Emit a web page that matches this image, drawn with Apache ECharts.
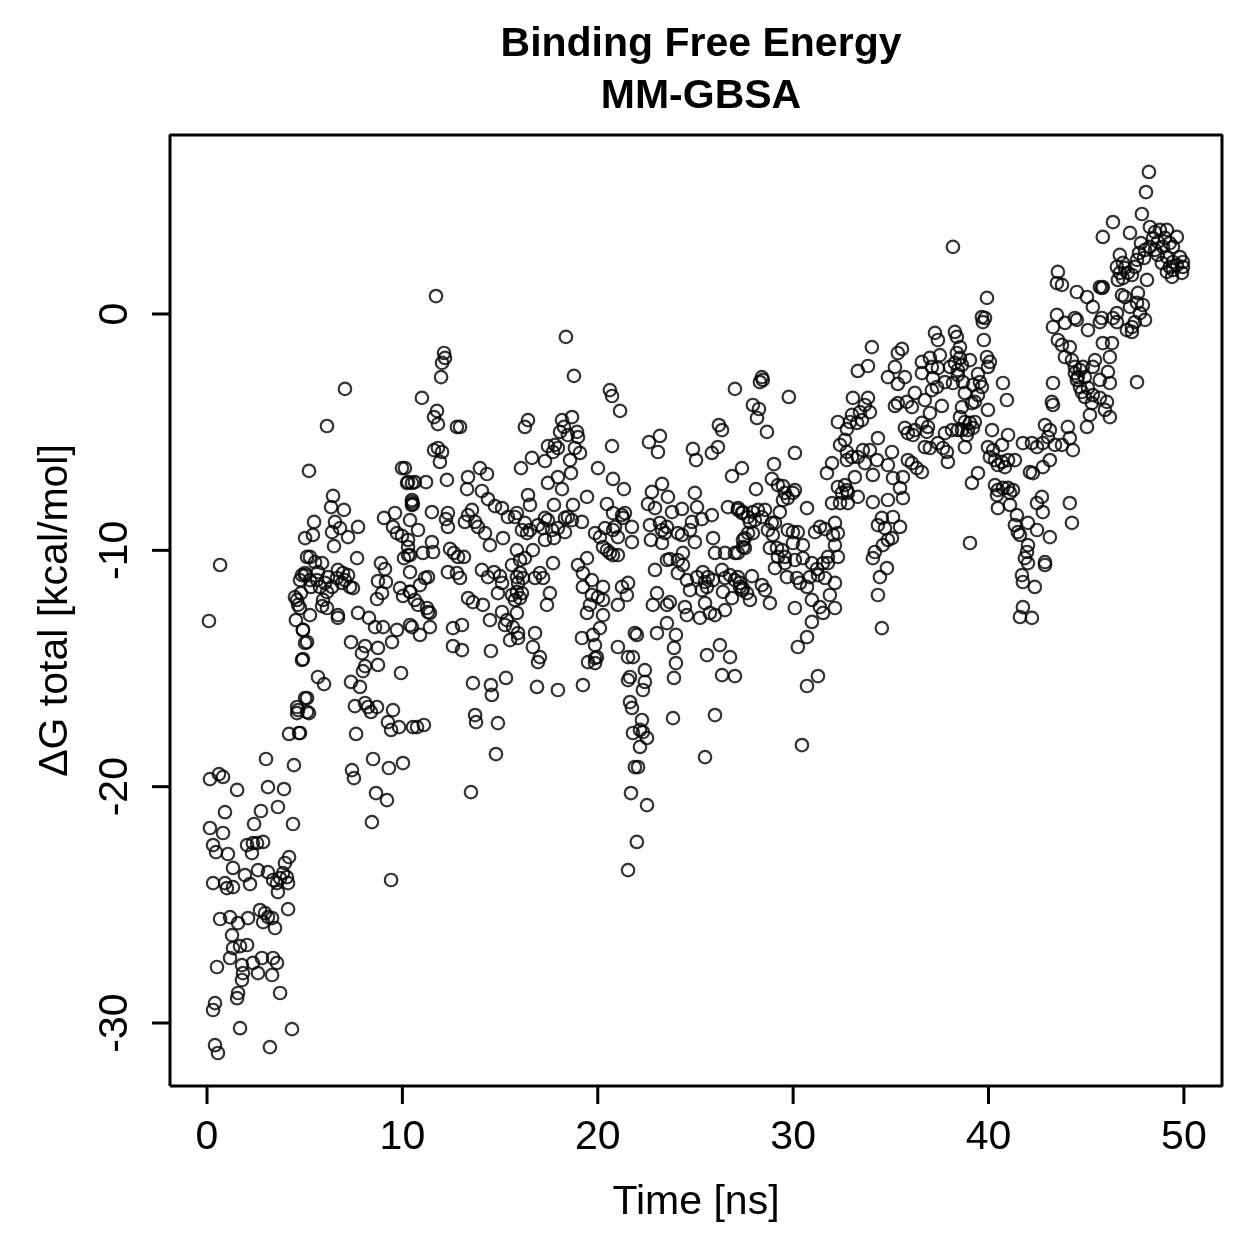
<!DOCTYPE html>
<html>
<head>
<meta charset="utf-8">
<title>Binding Free Energy - MM-GBSA</title>
<script src="https://cdn.jsdelivr.net/npm/echarts@6/dist/echarts.min.js"></script>
<style>
  html, body { margin: 0; padding: 0; background: #fff; }
  #chart { width: 1259px; height: 1259px; }
</style>
</head>
<body>
<div id="chart"></div>
<script>
// [time (ns), ΔG total (kcal/mol)], split by time window.
const frames0to5 = [
  [0.67,-10.62],[0.10,-12.99],[4.86,-11.05],[5.02,-11.05],[5.12,-10.28],[4.50,-11.98],[4.66,-12.31],[4.55,-12.95],[4.91,-13.37],[5.02,-13.92],
  [4.91,-14.60],[5.02,-16.25],[4.61,-16.63],[4.61,-16.89],[5.12,-16.84],[4.20,-17.77],[4.71,-17.73],[3.02,-18.83],[4.45,-19.09],[0.15,-19.68],
  [0.61,-19.47],[0.82,-19.59],[1.54,-20.14],[3.12,-20.02],[3.94,-20.10],[0.92,-21.08],[2.76,-21.03],[3.63,-20.86],[2.41,-21.58],[4.40,-21.58],
  [0.15,-21.75],[0.82,-21.96],[0.31,-22.47],[0.46,-22.77],[1.07,-22.85],[2.05,-22.47],[2.35,-22.39],[2.56,-22.39],[2.87,-22.34],[2.30,-22.81],
  [4.20,-22.98],[3.99,-23.23],[1.33,-23.44],[0.31,-24.08],[0.92,-24.08],[1.02,-24.29],[1.33,-24.25],[1.94,-23.74],[2.20,-24.12],[2.61,-23.53],
  [3.12,-23.62],[3.38,-23.95],[3.74,-23.87],[3.89,-23.66],[4.09,-23.83],[3.58,-24.08],[4.15,-24.08],[3.63,-24.46],[4.15,-25.18],[0.67,-25.60],
  [1.18,-25.52],[1.59,-25.77],[2.10,-25.56],[2.71,-25.22],[2.97,-25.35],[3.12,-25.52],[3.33,-25.56],[2.87,-25.73],[3.48,-25.98],[1.28,-26.28],
  [1.33,-26.83],[1.69,-26.75],[2.05,-26.70],[0.51,-27.63],[1.18,-27.25],[1.79,-27.55],[2.35,-27.46],[2.81,-27.25],[3.38,-27.25],[3.58,-27.46],
  [2.61,-27.89],[3.33,-27.97],[1.84,-27.89],[1.79,-28.18],[1.59,-28.73],[1.54,-28.95],[3.74,-28.73],[0.41,-29.16],[0.31,-29.45],[1.69,-30.22],
  [4.35,-30.26],[0.41,-30.94],[0.56,-31.27],[3.22,-31.02]
]
const frames5to10 = [
  [7.06,-3.17],[6.14,-4.74],[5.22,-6.64],[9.98,-6.52],[10.24,-7.15],[10.49,-7.15],[10.49,-7.96],[10.49,-8.08],[6.45,-7.70],[6.35,-8.17],
  [7.01,-8.29],[5.48,-8.80],[5.02,-9.48],[5.42,-9.35],[6.55,-8.80],[6.81,-9.06],[6.40,-9.23],[7.22,-9.44],[7.73,-9.01],[6.50,-9.82],
  [9.06,-8.63],[9.62,-8.42],[9.52,-9.01],[9.72,-9.27],[9.98,-9.39],[10.29,-9.56],[10.39,-10.20],[10.08,-10.33],[7.68,-10.33],[5.27,-10.28],
  [5.53,-10.50],[5.89,-10.54],[5.02,-10.96],[4.76,-11.26],[5.27,-11.26],[5.68,-10.92],[5.63,-11.26],[5.78,-11.55],[6.04,-11.38],[6.19,-11.13],
  [6.40,-11.55],[6.14,-11.77],[6.70,-10.83],[6.96,-10.96],[7.06,-11.26],[7.22,-11.05],[7.32,-11.55],[7.47,-11.60],[6.91,-11.38],[6.65,-11.17],
  [5.32,-11.55],[4.81,-11.81],[4.61,-12.10],[4.76,-12.44],[5.27,-12.74],[5.94,-12.10],[6.14,-12.44],[5.89,-12.36],[6.70,-12.74],[6.70,-12.86],
  [8.90,-10.54],[9.11,-10.79],[8.75,-11.30],[9.16,-11.34],[8.96,-11.81],[8.70,-12.06],[9.88,-11.60],[10.03,-11.93],[10.39,-11.76],[7.73,-12.65],
  [8.29,-12.86],[8.60,-13.25],[9.01,-13.25],[10.39,-13.16],[4.91,-13.37],[5.12,-13.88],[4.86,-14.64],[7.37,-13.88],[8.09,-14.05],[7.93,-14.35],
  [8.75,-14.13],[9.47,-13.88],[9.72,-13.37],[8.09,-14.90],[7.98,-15.11],[8.75,-14.85],[9.93,-15.19],[5.68,-15.36],[5.99,-15.66],[7.37,-15.57],
  [7.83,-15.78],[7.57,-16.59],[8.09,-16.46],[8.39,-16.84],[8.70,-16.63],[8.24,-16.63],[9.52,-16.76],[9.26,-17.27],[9.42,-17.60],[9.83,-17.48],
  [10.54,-17.48],[5.12,-16.25],[5.22,-16.89],[4.66,-16.76],[4.76,-17.73],[7.63,-17.77],[8.50,-18.83],[9.31,-19.21],[10.03,-19.00],[7.42,-19.30],
  [7.52,-19.64],[8.65,-20.27],[9.21,-20.57],[8.44,-21.50],[9.42,-23.95]
]
const frames10to16 = [
  [11.72,0.76],[12.13,-1.65],[12.18,-1.86],[12.03,-2.07],[11.98,-2.67],[11.00,-3.55],[11.77,-4.10],[11.62,-4.36],[11.82,-4.66],[12.79,-4.78],
  [12.95,-4.78],[16.27,-4.78],[11.62,-5.76],[11.82,-5.67],[12.03,-5.84],[11.92,-6.26],[10.13,-6.52],[10.29,-7.11],[10.64,-7.11],[11.21,-7.11],
  [12.28,-7.02],[13.97,-6.52],[14.33,-6.77],[13.36,-6.90],[13.31,-7.41],[14.07,-7.49],[14.38,-7.83],[10.49,-7.87],[10.54,-8.04],[11.51,-8.38],
  [12.33,-8.42],[12.23,-8.68],[12.33,-9.01],[13.36,-8.51],[13.56,-8.29],[13.20,-8.80],[13.72,-8.80],[13.87,-9.01],[10.39,-8.72],[10.29,-9.86],
  [10.29,-10.20],[10.80,-9.14],[11.51,-9.65],[11.57,-10.07],[11.05,-10.11],[14.74,-8.13],[15.10,-8.21],[15.40,-8.59],[15.76,-8.59],[14.23,-9.27],
  [14.48,-9.78],[15.15,-9.48],[12.44,-9.94],[12.64,-10.11],[12.85,-10.28],[13.15,-10.28],[12.33,-10.92],[12.79,-10.96],[12.95,-11.17],[14.07,-10.83],
  [14.38,-11.13],[14.69,-10.92],[15.00,-11.09],[15.10,-11.38],[14.89,-11.81],[15.61,-10.62],[16.02,-10.96],[16.17,-11.17],[15.86,-11.76],[16.02,-12.02],
  [15.76,-12.10],[15.61,-11.89],[10.39,-10.92],[10.39,-11.76],[10.90,-11.47],[11.16,-11.17],[11.31,-11.13],[10.64,-12.10],[10.80,-12.31],[11.26,-12.44],
  [11.41,-12.65],[11.31,-12.61],[10.49,-13.25],[10.90,-13.58],[11.41,-13.25],[13.36,-12.02],[13.61,-12.19],[14.12,-12.31],[14.48,-12.95],[15.10,-12.61],
  [15.35,-12.95],[15.66,-13.25],[15.25,-13.16],[15.92,-13.71],[15.51,-13.80],[15.92,-13.50],[12.59,-13.29],[13.05,-13.16],[12.59,-14.05],[13.05,-14.22],
  [14.53,-14.26],[13.61,-15.62],[14.53,-15.70],[14.58,-16.12],[15.30,-15.40],[13.72,-16.97],[13.77,-17.27],[14.89,-17.31],[10.75,-17.48],[11.10,-17.39],
  [14.79,-18.62],[13.51,-20.23]
]
const frames16to22 = [
  [18.37,-0.97],[18.78,-2.62],[20.62,-3.22],[20.73,-3.47],[21.14,-4.10],[16.43,-4.49],[18.17,-4.49],[18.68,-4.36],[18.27,-4.78],[18.07,-4.99],
  [18.47,-5.12],[18.94,-4.99],[18.99,-5.21],[18.83,-5.67],[19.09,-5.88],[17.45,-5.59],[17.81,-5.54],[17.96,-5.67],[17.71,-5.84],[18.58,-6.18],
  [18.63,-6.73],[20.73,-5.59],[16.63,-6.09],[17.30,-6.22],[16.07,-6.52],[20.01,-6.52],[17.96,-6.90],[18.17,-7.41],[17.45,-7.15],[20.78,-6.98],
  [21.34,-7.41],[16.43,-7.66],[16.53,-8.08],[17.76,-8.08],[18.73,-8.08],[19.45,-7.74],[20.47,-8.04],[20.78,-8.42],[21.24,-8.51],[21.39,-8.42],
  [21.29,-8.63],[21.75,-9.01],[15.86,-8.42],[16.27,-8.84],[16.12,-9.14],[16.53,-9.14],[16.38,-9.27],[16.94,-8.93],[17.30,-8.63],[17.45,-8.72],
  [17.20,-9.06],[17.66,-9.14],[17.96,-9.06],[18.32,-8.63],[18.47,-8.59],[18.68,-8.72],[19.19,-8.80],[18.32,-9.23],[17.30,-9.56],[17.76,-9.48],
  [19.86,-9.27],[20.11,-9.44],[20.37,-9.06],[20.88,-9.01],[21.03,-9.44],[20.78,-9.14],[20.27,-9.86],[20.62,-10.11],[20.47,-9.99],[20.78,-10.20],
  [21.03,-10.20],[15.86,-9.99],[16.27,-10.33],[16.02,-10.41],[16.68,-9.99],[17.71,-10.54],[17.04,-10.96],[16.79,-11.17],[17.20,-11.17],[15.86,-11.13],
  [15.92,-11.38],[16.12,-11.81],[17.55,-11.81],[17.40,-12.31],[19.45,-10.33],[18.99,-10.62],[19.24,-10.96],[19.70,-11.26],[20.27,-11.55],[21.24,-11.55],
  [21.49,-11.89],[21.03,-12.31],[20.01,-11.98],[20.27,-12.10],[19.24,-11.55],[19.70,-11.89],[19.60,-12.31],[19.45,-12.65],[20.27,-12.74],[20.11,-13.29],
  [19.19,-13.71],[19.75,-13.58],[19.86,-14.01],[19.96,-14.52],[19.50,-14.73],[19.86,-14.77],[19.86,-14.56],[15.86,-12.65],[16.79,-13.50],[16.68,-14.09],
  [17.04,-14.52],[16.94,-14.73],[21.03,-14.09],[21.55,-14.52],[21.65,-15.36],[16.89,-15.78],[17.96,-15.91],[19.24,-15.70]
]
const frames22to27 = [
  [27.02,-3.17],[26.20,-4.70],[26.36,-4.91],[23.18,-5.16],[22.62,-5.42],[23.08,-5.84],[24.87,-5.71],[25.03,-6.18],[25.84,-5.88],[26.15,-5.63],
  [26.87,-6.86],[27.38,-6.52],[23.29,-7.19],[22.77,-7.53],[23.59,-7.74],[22.57,-8.04],[22.93,-8.21],[23.80,-8.38],[24.31,-8.25],[24.97,-7.57],
  [25.08,-8.17],[24.82,-8.80],[25.33,-8.68],[25.84,-8.51],[24.72,-9.14],[24.31,-9.35],[24.10,-9.27],[23.18,-8.84],[23.29,-9.14],[23.44,-9.27],
  [22.67,-8.93],[22.72,-9.56],[23.29,-9.69],[23.54,-9.01],[24.97,-9.65],[24.36,-10.11],[24.10,-10.41],[23.54,-10.41],[23.69,-10.37],[25.90,-9.48],
  [26.00,-10.11],[26.51,-10.11],[27.02,-10.11],[26.66,-8.17],[27.18,-8.21],[27.38,-8.42],[27.43,-9.56],[27.53,-9.90],[22.93,-10.83],[24.10,-10.96],
  [24.36,-10.62],[24.56,-11.26],[24.72,-11.68],[24.46,-12.40],[24.56,-12.74],[25.08,-11.13],[25.38,-10.92],[25.64,-11.13],[25.49,-11.34],[25.33,-11.68],
  [25.59,-11.55],[25.90,-11.26],[26.36,-10.83],[26.51,-11.17],[26.77,-11.05],[27.02,-11.26],[27.28,-11.55],[27.38,-11.68],[26.41,-11.76],[26.87,-12.02],
  [25.49,-12.23],[25.23,-12.86],[25.74,-12.65],[26.00,-12.74],[26.51,-12.53],[21.75,-9.65],[21.55,-11.38],[23.03,-11.81],[22.82,-12.31],[23.54,-12.31],
  [23.69,-12.19],[23.54,-13.08],[23.03,-13.50],[24.00,-13.58],[23.90,-14.13],[24.00,-14.77],[23.90,-15.40],[21.90,-13.50],[22.00,-13.58],[21.80,-14.52],
  [21.55,-15.49],[22.41,-15.07],[22.41,-15.57],[22.31,-15.91],[21.65,-16.42],[21.75,-16.67],[21.80,-17.73],[25.59,-14.43],[26.25,-14.01],[26.77,-14.52],
  [26.36,-15.28],[27.02,-15.32],[23.85,-17.10],[26.00,-16.97],[22.26,-17.18],[22.16,-17.60],[22.31,-17.69],[22.52,-17.94],[22.16,-18.32],[22.06,-19.17],
  [21.90,-19.17],[25.49,-18.75],[21.70,-20.27],[22.52,-20.78],[22.00,-22.34],[21.55,-23.53]
]
const frames27to33 = [
  [28.40,-2.67],[28.45,-2.79],[28.30,-2.88],[29.78,-3.51],[27.94,-3.85],[28.25,-4.02],[28.15,-4.40],[28.66,-4.99],[30.09,-5.88],[29.02,-6.35],
  [28.91,-6.98],[29.22,-7.24],[29.48,-7.28],[29.58,-7.57],[29.73,-7.79],[29.99,-7.57],[30.09,-7.45],[29.48,-7.87],[28.10,-7.41],[30.71,-8.21],
  [29.32,-8.38],[28.91,-8.84],[29.07,-8.84],[28.71,-9.14],[28.96,-9.35],[28.81,-9.90],[29.17,-9.90],[29.43,-9.99],[29.58,-10.28],[29.22,-10.28],
  [29.58,-10.54],[29.07,-10.75],[29.68,-11.13],[27.17,-8.29],[27.43,-8.38],[27.69,-8.59],[27.94,-8.38],[28.20,-8.29],[28.56,-8.29],[28.40,-8.59],
  [28.04,-8.72],[27.79,-8.80],[27.69,-9.27],[27.53,-9.48],[27.94,-9.27],[27.43,-9.86],[27.17,-10.11],[29.73,-9.14],[29.99,-9.23],[30.24,-9.23],
  [30.50,-9.78],[29.99,-9.69],[30.09,-10.41],[30.50,-10.33],[31.12,-9.23],[31.37,-9.01],[31.63,-9.10],[32.14,-8.84],[32.04,-9.35],[32.29,-9.27],
  [30.96,-10.54],[31.22,-10.79],[31.53,-10.54],[31.78,-10.28],[32.29,-10.28],[31.78,-10.54],[31.27,-11.05],[31.63,-11.17],[32.14,-11.38],[31.88,-11.89],
  [32.14,-12.44],[31.53,-12.65],[31.37,-12.40],[30.96,-12.10],[30.71,-11.55],[30.35,-11.38],[30.19,-11.17],[30.86,-11.13],[30.09,-12.44],[30.96,-13.03],
  [30.71,-13.67],[30.24,-14.09],[27.17,-11.13],[27.28,-11.38],[27.43,-11.60],[27.64,-11.81],[27.79,-12.10],[27.89,-11.09],[28.40,-11.47],[28.56,-11.68],
  [28.81,-12.23],[30.71,-15.74],[31.27,-15.32],[30.45,-18.24],[32.29,-4.57],[32.75,-4.87],[32.40,-5.54],[32.75,-6.18],[31.99,-6.31],[31.73,-6.73],
  [32.29,-7.32],[32.65,-7.24],[32.50,-7.57],[32.80,-7.57],[31.99,-8.00],[32.40,-8.00],[32.14,-9.78]
]
const frames33to39 = [
  [38.18,2.84],[37.26,-0.80],[37.41,-1.10],[38.28,-0.76],[38.38,-0.97],[38.54,-1.40],[34.03,-1.40],[35.36,-1.65],[35.57,-1.48],[35.21,-2.24],
  [34.85,-2.67],[35.36,-2.96],[35.72,-2.67],[33.31,-2.41],[33.83,-2.20],[36.59,-2.03],[37.00,-1.86],[37.10,-2.24],[37.51,-1.74],[37.41,-2.29],
  [36.59,-2.50],[37.15,-2.71],[37.36,-3.09],[37.10,-3.22],[37.77,-2.88],[38.03,-2.24],[38.28,-2.07],[38.54,-1.86],[38.43,-2.58],[38.18,-2.92],
  [38.69,-2.88],[36.23,-3.34],[36.74,-3.64],[37.00,-4.19],[37.61,-3.89],[36.08,-3.94],[35.82,-3.72],[35.36,-3.77],[35.21,-3.89],[33.06,-3.55],
  [33.83,-3.55],[33.67,-3.85],[33.42,-4.15],[33.52,-4.49],[33.27,-4.61],[33.01,-4.27],[32.91,-4.57],[33.93,-4.15],[35.72,-4.82],[35.87,-5.04],
  [36.23,-4.91],[36.59,-4.61],[36.90,-4.78],[36.84,-4.99],[36.13,-5.12],[36.74,-5.63],[37.00,-5.67],[37.41,-5.46],[37.67,-5.67],[37.87,-5.84],
  [37.92,-6.26],[37.77,-5.04],[38.13,-4.91],[38.64,-4.91],[32.65,-5.33],[32.75,-5.84],[33.01,-6.05],[33.31,-6.05],[33.57,-5.76],[33.93,-5.76],
  [34.34,-5.25],[35.06,-5.84],[33.67,-6.31],[34.29,-6.18],[34.85,-6.39],[34.08,-6.81],[35.87,-6.18],[36.08,-6.31],[36.33,-6.52],[36.59,-6.69],
  [35.62,-6.90],[35.11,-6.94],[35.47,-7.36],[35.62,-7.79],[34.85,-7.87],[34.08,-7.96],[33.31,-7.74],[33.16,-6.90],[32.75,-7.45],[32.80,-8.00],
  [35.11,-8.59],[35.47,-9.01],[34.54,-8.63],[34.34,-8.93],[34.70,-9.06],[35.06,-9.48],[34.85,-9.56],[34.59,-9.78],[34.18,-10.07],[34.08,-10.33],
  [34.80,-10.75],[34.44,-11.13],[34.34,-11.89],[34.54,-13.29]
]
const frames39to45 = [
  [43.55,1.78],[43.50,1.31],[43.76,1.23],[44.52,0.93],[39.92,0.68],[39.66,-0.13],[39.82,-0.17],[39.71,-0.34],[43.50,-0.04],[43.30,-0.55],
  [43.91,-0.38],[44.42,-0.17],[38.38,-1.65],[38.64,-2.16],[39.05,-1.95],[38.43,-2.37],[39.76,-1.10],[39.92,-1.82],[40.07,-2.03],[39.97,-2.24],
  [39.46,-2.54],[39.56,-2.88],[39.20,-3.00],[39.66,-3.09],[39.46,-3.43],[39.30,-3.72],[39.97,-4.06],[40.74,-2.92],[40.94,-3.64],[38.79,-3.34],
  [38.64,-3.94],[39.15,-3.77],[38.54,-4.36],[38.79,-4.57],[39.05,-4.61],[39.30,-4.57],[39.20,-4.82],[38.95,-4.91],[38.89,-5.12],[38.43,-4.91],
  [38.79,-5.63],[40.18,-4.91],[39.97,-5.63],[40.23,-5.76],[40.69,-5.54],[41.00,-5.12],[40.07,-6.05],[40.33,-6.18],[40.69,-6.26],[41.00,-6.18],
  [41.35,-6.18],[40.84,-6.48],[40.48,-6.39],[39.46,-6.73],[39.15,-7.15],[39.05,-9.69],[40.33,-7.24],[40.48,-7.45],[40.74,-7.36],[41.00,-7.36],
  [41.25,-7.45],[41.10,-7.57],[40.43,-7.66],[40.48,-8.21],[41.10,-8.08],[41.45,-8.51],[41.35,-8.93],[41.50,-9.23],[41.61,-9.35],[42.02,-8.84],
  [42.48,-9.14],[43.14,-9.44],[42.73,-7.74],[42.48,-8.00],[42.78,-8.38],[42.02,-9.78],[41.97,-10.07],[41.86,-10.33],[42.02,-10.54],[41.71,-11.05],
  [41.76,-11.34],[42.37,-11.55],[42.89,-10.50],[42.89,-10.62],[41.76,-12.40],[41.61,-12.82],[42.22,-12.86],[41.76,-5.46],[42.22,-5.46],[42.48,-5.63],
  [42.78,-5.46],[43.04,-5.21],[43.40,-5.54],[43.76,-5.54],[44.06,-4.78],[44.16,-5.25],[44.32,-5.76],[42.89,-4.70],[43.14,-4.91],[42.12,-6.69],
  [42.27,-6.73],[42.78,-6.48],[43.14,-6.18],[43.30,-2.92],[43.24,-3.72],[43.30,-3.85],[44.16,-8.00],[44.27,-8.84],[43.55,-1.10],[43.76,-1.31],
  [44.16,-1.40],[43.91,-1.82],[44.27,-1.95],[44.42,-2.24],[44.42,-2.50],[44.57,-2.67],[44.68,-3.09]
]
const frames45to50 = [
  [48.21,6.01],[48.06,5.16],[47.85,4.23],[46.37,3.89],[47.24,3.43],[45.85,3.26],[48.26,3.68],[48.52,3.47],[48.77,3.56],[49.13,3.56],
  [49.64,3.26],[48.42,3.22],[48.67,3.05],[49.03,3.22],[49.28,3.00],[48.93,2.84],[49.44,2.84],[48.26,2.84],[48.01,2.71],[48.52,2.71],
  [48.67,2.50],[49.80,2.41],[49.95,2.20],[49.13,2.41],[49.44,2.20],[49.28,1.99],[49.64,2.07],[49.95,1.99],[49.90,1.74],[49.44,1.86],
  [49.13,1.78],[49.39,1.57],[48.87,2.16],[47.80,3.00],[47.70,2.58],[47.96,2.37],[46.72,2.50],[46.57,1.99],[46.88,2.16],[46.98,1.95],
  [47.13,1.74],[46.72,1.74],[46.88,1.52],[46.62,1.44],[47.34,1.65],[47.60,2.29],[47.49,1.99],[48.11,1.44],[47.65,0.89],[46.83,0.80],
  [46.98,0.72],[47.24,0.30],[47.60,0.47],[47.90,0.38],[47.75,0.04],[48.01,-0.25],[47.49,-0.34],[47.34,-0.55],[47.08,-0.68],[47.34,-0.76],
  [46.57,0.04],[46.37,-0.17],[46.57,-0.34],[45.85,-1.23],[46.32,-1.23],[46.21,-1.82],[46.11,-2.45],[46.21,-2.92],[45.45,-1.95],[45.34,-2.24],
  [44.83,-2.24],[44.68,-2.37],[44.93,-2.67],[44.52,-2.79],[44.78,-3.30],[45.09,-3.13],[45.34,-3.43],[44.93,-3.51],[45.29,-3.77],[45.70,-3.55],
  [46.06,-3.72],[45.96,-4.06],[46.21,-4.36],[45.70,-2.79],[45.19,-4.27],[45.04,-4.78],[47.60,-2.88],[45.04,0.72],[45.34,0.30],[45.70,1.14],
  [45.80,1.10],[45.85,1.14],[44.52,-0.25],[45.09,-0.68],[45.70,-0.34],[45.80,-0.17]
]

// 刻度.
const xTicks = [0, 10, 20, 30, 40, 50]
const yTicks = [-30, -20, -10, 0]

// 绘图框的范围 (R 默认两端各留 4%).
const xBox = [-1.894, 51.95]
const yBox = [-32.666, 7.574]
// 坐标轴范围: 绘图框外再留一圈, 让刻度线落在网格内.
const xRange = [-2.918, 52.974]
const yRange = [-33.512, 8.42]

const frames = [].concat(
  frames0to5, frames5to10, frames10to16, frames16to22, frames22to27,
  frames27to33, frames33to39, frames39to45, frames45to50
)

const font = '"Liberation Sans", Arial, Helvetica, sans-serif'
const black = '#000000'
// 刻度线长度 (约 18px), 换成各轴的数据单位.
const tickLenX = 0.92
const tickLenY = 0.76

// 绘图框四角.
const boxCorners = [
  [xBox[0], yBox[0]], [xBox[1], yBox[0]], [xBox[1], yBox[1]], [xBox[0], yBox[1]], [xBox[0], yBox[0]],
]

const segmentStyle = {
  type: 'line',
  showSymbol: false,
  silent: true,
  clip: false,
  z: 9,
  lineStyle: { color: black, width: 3 },
  emphasis: { disabled: true },
}

// 每根刻度线是一段两点的折线.
const tickSeries = [
  ...xTicks.map((v) => ({ ...segmentStyle, data: [[v, yBox[0]], [v, yBox[0] - tickLenY]] })),
  ...yTicks.map((v) => ({ ...segmentStyle, data: [[xBox[0], v], [xBox[0] - tickLenX, v]] })),
]

const chart = echarts.init(document.getElementById('chart'), null, { renderer: 'canvas' })

chart.setOption({
  animation: false,
  backgroundColor: '#ffffff',
  title: {
    text: 'Binding Free Energy\nMM-GBSA',
    left: 696,
    top: 14,
    textAlign: 'center',
    textStyle: {
      fontFamily: font,
      fontWeight: 'bold',
      fontSize: 41,
      lineHeight: 52,
      color: black,
    },
  },
  grid: {
    left: 150,
    top: 115,
    right: 17,
    bottom: 153,
    show: false,
  },
  xAxis: {
    type: 'value',
    min: xRange[0],
    max: xRange[1],
    name: 'Time [ns]',
    nameLocation: 'middle',
    nameGap: 76,
    nameTextStyle: { fontFamily: font, fontSize: 41, color: black },
    axisLine: { show: false, onZero: false },
    splitLine: { show: false },
    axisTick: { show: false },
    axisLabel: {
      customValues: xTicks,
      fontFamily: font,
      fontSize: 41,
      color: black,
      margin: 11,
    },
  },
  yAxis: {
    type: 'value',
    min: yRange[0],
    max: yRange[1],
    name: 'ΔG total [kcal/mol]',
    nameLocation: 'middle',
    nameGap: 74,
    nameTextStyle: { fontFamily: font, fontSize: 41, color: black },
    axisLine: { show: false, onZero: false },
    splitLine: { show: false },
    axisTick: { show: false },
    axisLabel: {
      customValues: yTicks,
      rotate: 90,
      fontFamily: font,
      fontSize: 41,
      color: black,
      margin: 14,
    },
  },
  series: [
    {
      type: 'scatter',
      data: frames,
      symbol: 'circle',
      symbolSize: 12.5,
      itemStyle: {
        color: 'rgba(0,0,0,0)',
        borderColor: black,
        borderWidth: 2.2,
      },
      emphasis: { disabled: true },
      silent: true,
    },
    { ...segmentStyle, data: boxCorners },
    ...tickSeries,
  ],
})
</script>
</body>
</html>
